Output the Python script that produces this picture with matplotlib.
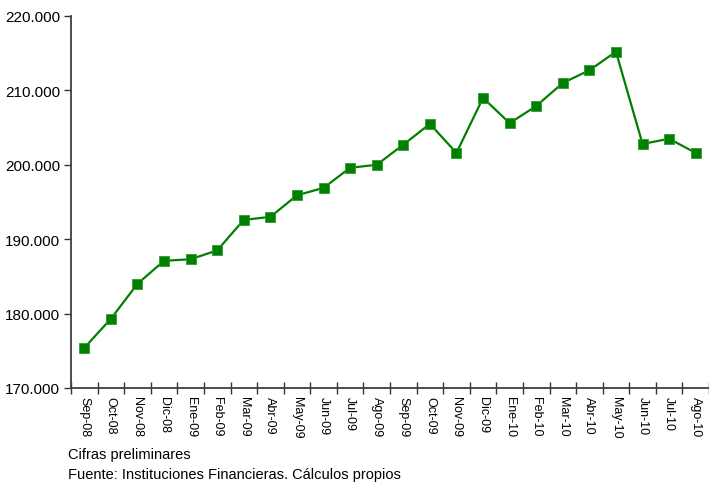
import numpy as np
import matplotlib.pyplot as plt

plt.rcParams['font.family'] = ['Liberation Sans', 'DejaVu Sans']

# Datos
meses = ['Sep-08', 'Oct-08', 'Nov-08', 'Dic-08', 'Ene-09', 'Feb-09', 'Mar-09', 'Abr-09',
         'May-09', 'Jun-09', 'Jul-09', 'Ago-09', 'Sep-09', 'Oct-09', 'Nov-09', 'Dic-09',
         'Ene-10', 'Feb-10', 'Mar-10', 'Abr-10', 'May-10', 'Jun-10', 'Jul-10', 'Ago-10']
valores = [175.4, 179.3, 184.0, 187.1, 187.3, 188.5, 192.6, 193.0,
           195.9, 196.9, 199.6, 200.0, 202.7, 205.5, 201.6, 209.0,
           205.6, 207.9, 211.0, 212.7, 215.2, 202.8, 203.5, 201.6]
y_ticks = [170, 180, 190, 200, 210, 220]
y_labels = ['170.000', '180.000', '190.000', '200.000', '210.000', '220.000']

fig = plt.figure(figsize=(7.09, 4.85), dpi=100)
ax = fig.add_axes([71 / 709, 1 - 389 / 485, 638 / 709, 372 / 485])

x = np.arange(len(meses))
ax.plot(x, valores, color='#008000', linewidth=1.6, marker='s', markersize=6.6,
        markerfacecolor='#008000', markeredgecolor='#2e9a2e', markeredgewidth=0.6,
        clip_on=False)

ax.set_xlim(-0.5, len(meses) - 0.5)
ax.set_ylim(170, 220)

ax.set_yticks(y_ticks)
ax.set_yticklabels(y_labels, fontsize=11)
ax.set_xticks(x)
ax.set_xticklabels(meses, rotation=270, fontsize=9, va='top', ha='center')
ax.set_xticks(np.arange(-0.5, len(meses)), minor=True)

ax.tick_params(axis='x', which='major', length=0, pad=6)
ax.tick_params(axis='x', which='minor', direction='inout', length=9, width=1, color='#333333')
ax.tick_params(axis='y', which='major', direction='out', length=5, width=1, color='#333333', pad=3)

for s in ['top', 'right']:
    ax.spines[s].set_visible(False)
for s in ['left', 'bottom']:
    ax.spines[s].set_color('#404040')
    ax.spines[s].set_linewidth(1.3)

fig.text(68 / 709, 1 - 455 / 485, 'Cifras preliminares', fontsize=10.5, va='center', ha='left')
fig.text(68 / 709, 1 - 475 / 485, 'Fuente: Instituciones Financieras. Cálculos propios',
         fontsize=10.5, va='center', ha='left')

plt.savefig('out.png', dpi=100)
